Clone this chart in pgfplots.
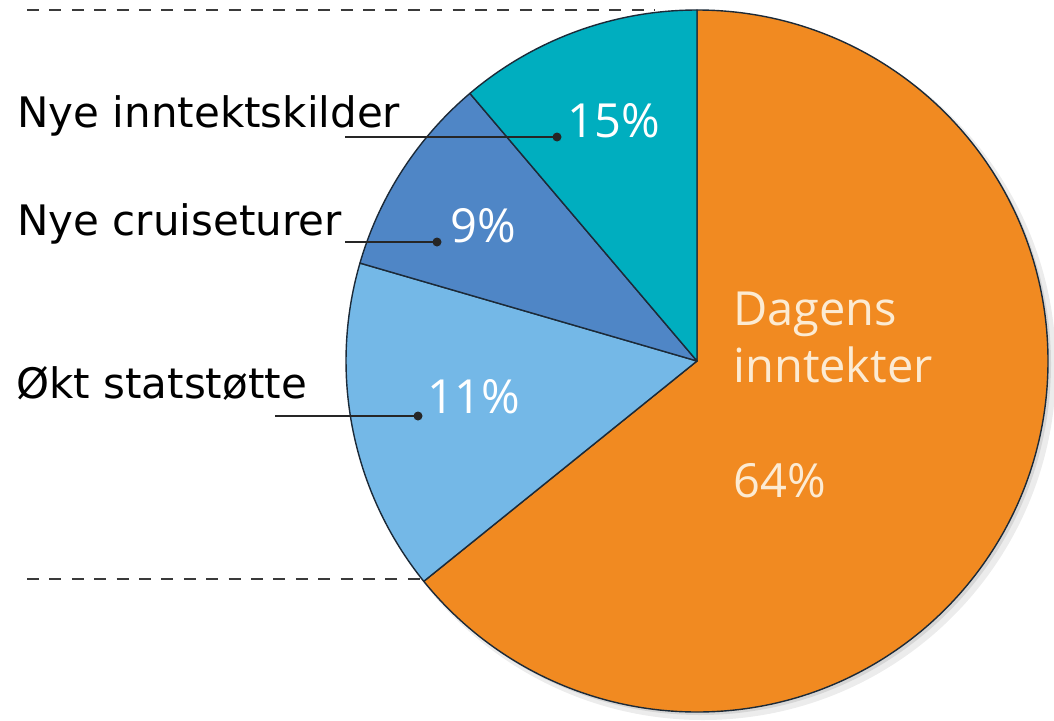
\documentclass[border=0pt]{standalone}
\usepackage{pgfplots}
\pgfplotsset{compat=1.18}
\usepackage{fontspec}
\setmainfont{DejaVu Sans}
\newfontfamily\pctfont{Open Sans}
\definecolor{cOrange}{HTML}{F18A21}
\definecolor{cLight}{HTML}{74B8E7}
\definecolor{cDark}{HTML}{4F86C6}
\definecolor{cTeal}{HTML}{00AEBF}
\definecolor{cEdge}{HTML}{1C2A38}
\definecolor{cCream}{HTML}{FCEBD3}
\definecolor{cDash}{HTML}{3A3A3A}
% slice shares (percent of the full circle), clockwise from 12 o'clock
\def\vOrange{64.2}
\def\vLight{15.3}
\def\vDark{9.3}
\def\vTeal{11.2}
\begin{document}
\begin{tikzpicture}
\begin{axis}[
  x=0.5pt, y=0.5pt,
  xmin=0, xmax=1054, ymin=0, ymax=720,
  hide axis, clip=false,
]
% shadow
\fill[gray!60, opacity=0.25] (axis cs:703,353) circle[radius=353];
\fill[gray!70, opacity=0.3] (axis cs:700,356) circle[radius=351];
% slices
\filldraw[fill=cOrange, draw=cEdge, line width=0.7pt, line join=round]
  (axis cs:697,359) -- (axis cs:697,710)
  arc[start angle=90, end angle={90-\vOrange*3.6}, radius=351] -- cycle;
\filldraw[fill=cLight, draw=cEdge, line width=0.7pt, line join=round]
  (axis cs:697,359) -- ++({351*cos(90-\vOrange*3.6)*0.5pt},{351*sin(90-\vOrange*3.6)*0.5pt})
  arc[start angle={90-\vOrange*3.6}, end angle={90-(\vOrange+\vLight)*3.6}, radius=351] -- cycle;
\filldraw[fill=cDark, draw=cEdge, line width=0.7pt, line join=round]
  (axis cs:697,359) -- ++({351*cos(90-(\vOrange+\vLight)*3.6)*0.5pt},{351*sin(90-(\vOrange+\vLight)*3.6)*0.5pt})
  arc[start angle={90-(\vOrange+\vLight)*3.6}, end angle={90-(\vOrange+\vLight+\vDark)*3.6}, radius=351] -- cycle;
\filldraw[fill=cTeal, draw=cEdge, line width=0.7pt, line join=round]
  (axis cs:697,359) -- ++({351*cos(90-(\vOrange+\vLight+\vDark)*3.6)*0.5pt},{351*sin(90-(\vOrange+\vLight+\vDark)*3.6)*0.5pt})
  arc[start angle={90-(\vOrange+\vLight+\vDark)*3.6}, end angle={90-(\vOrange+\vLight+\vDark+\vTeal)*3.6}, radius=351] -- cycle;
% dashed guide lines
\draw[cDash, line width=1.4pt, dash pattern=on 6pt off 5.2pt] (axis cs:27,710) -- (axis cs:655,710);
\draw[cDash, line width=1.4pt, dash pattern=on 6pt off 5.2pt] (axis cs:27,141) -- (axis cs:424,141);
% leader lines
\draw[black!85, line width=1pt] (axis cs:345,583) -- (axis cs:557,583);
\fill[black!85] (axis cs:557,583) circle[radius=4.5];
\draw[black!85, line width=1pt] (axis cs:345,478) -- (axis cs:437,478);
\fill[black!85] (axis cs:437,478) circle[radius=4.5];
\draw[black!85, line width=1pt] (axis cs:275,304) -- (axis cs:418,304);
\fill[black!85] (axis cs:418,304) circle[radius=4.5];
% category labels
\node[anchor=base west, inner sep=0, font=\fontsize{21}{25}\selectfont] at (axis cs:17,593) {Nye inntektskilder};
\node[anchor=base west, inner sep=0, font=\fontsize{21}{25}\selectfont] at (axis cs:17,485) {Nye cruiseturer};
\node[anchor=base west, inner sep=0, font=\fontsize{21}{25}\selectfont] at (axis cs:16,322) {Økt statstøtte};
% values
\node[anchor=base west, inner sep=0, text=white, font=\pctfont\fontsize{23.5}{27}\selectfont] at (axis cs:567,583) {15\%};
\node[anchor=base west, inner sep=0, text=white, font=\pctfont\fontsize{23.5}{27}\selectfont] at (axis cs:450,478) {9\%};
\node[anchor=base west, inner sep=0, text=white, font=\pctfont\fontsize{23.5}{27}\selectfont] at (axis cs:427,307) {11\%};
\node[anchor=base west, inner sep=0, text=cCream, font=\pctfont\fontsize{23.5}{27}\selectfont] at (axis cs:733,395) {Dagens};
\node[anchor=base west, inner sep=0, text=cCream, font=\pctfont\fontsize{23.5}{27}\selectfont] at (axis cs:733,338) {inntekter};
\node[anchor=base west, inner sep=0, text=cCream, font=\pctfont\fontsize{23.5}{27}\selectfont] at (axis cs:733,223) {64\%};
\end{axis}
\pgfresetboundingbox
\path (0,0) rectangle (527pt,360pt);
\end{tikzpicture}
\end{document}
